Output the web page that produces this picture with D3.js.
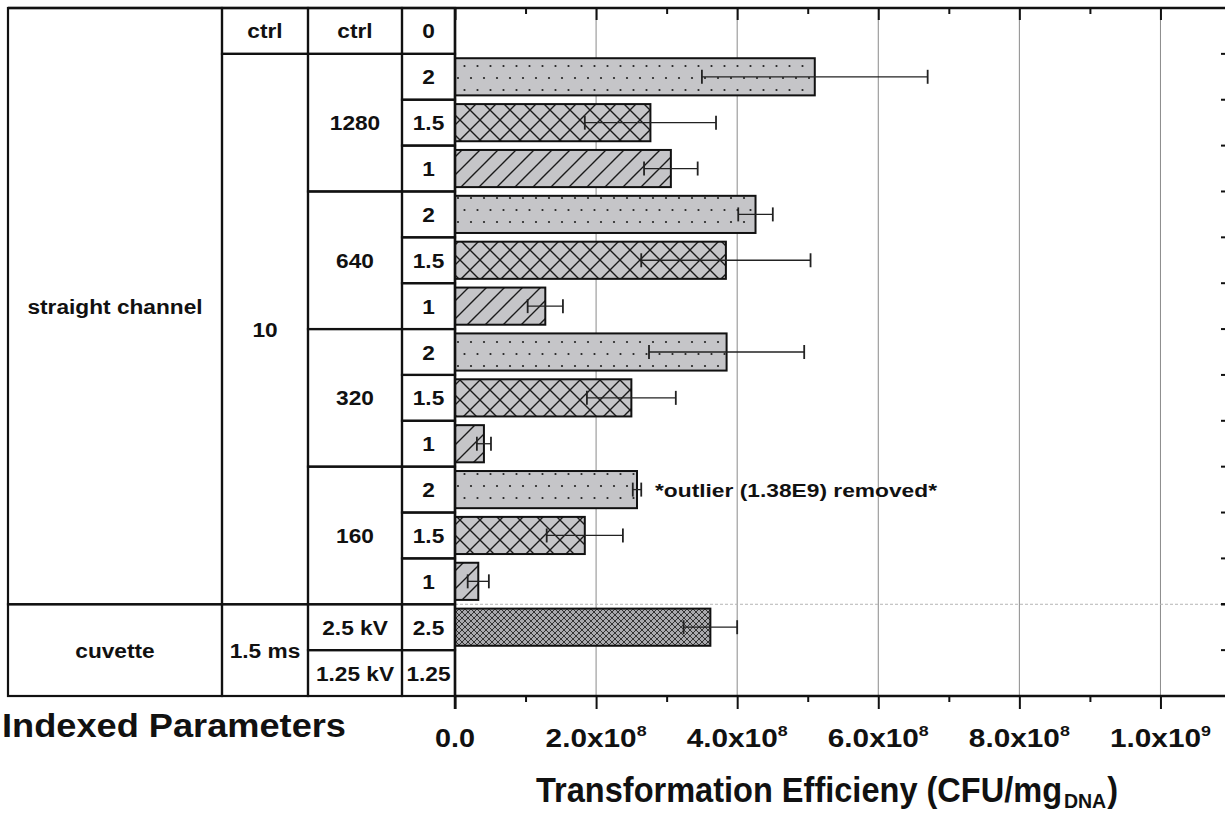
<!DOCTYPE html>
<html>
<head>
<meta charset="utf-8">
<script src="https://cdn.jsdelivr.net/npm/d3@7/dist/d3.min.js"></script>
<style>
  html, body { margin: 0; padding: 0; background: #fff; }
  svg { display: block; }
  text { font-family: "Liberation Sans", Arial, Helvetica, sans-serif; font-weight: bold; fill: #111; }
</style>
</head>
<body>
<svg id="chart" width="1225" height="815"></svg>
<script>
// ---- data ---------------------------------------------------------------
// one entry per row, top to bottom
const rowIndexLabels = ["0", "2", "1.5", "1", "2", "1.5", "1", "2", "1.5", "1", "2", "1.5", "1", "2.5", "1.25"];
const rowPatterns    = [null, "dots", "cross", "diag", "dots", "cross", "diag", "dots", "cross", "diag", "dots", "cross", "diag", "dense", null];
const efficiency     = [null, 5.10e8, 2.77e8, 3.06e8, 4.26e8, 3.84e8, 1.28e8, 3.85e8, 2.50e8, 0.41e8, 2.58e8, 1.84e8, 0.33e8, 3.62e8, null];
const efficiencyErr  = [null, 1.60e8, 0.93e8, 0.38e8, 0.245e8, 1.20e8, 0.25e8, 1.10e8, 0.63e8, 0.10e8, 0.06e8, 0.54e8, 0.15e8, 0.38e8, null];

// parameter table: [label, first row, last row]
const deviceCells  = [["straight channel", 0, 12], ["cuvette", 13, 14]];
const pulseCells   = [["ctrl", 0, 0], ["10", 1, 12], ["1.5 ms", 13, 14]];
const channelCells = [["ctrl", 0, 0], ["1280", 1, 3], ["640", 4, 6], ["320", 7, 9], ["160", 10, 12], ["2.5 kV", 13, 13], ["1.25 kV", 14, 14]];

const majorTicks = [0, 2e8, 4e8, 6e8, 8e8, 1e9];
const minorTicks = [1e8, 3e8, 5e8, 7e8, 9e8];
const tickLabels = [["0.0", null], ["2.0x10", "8"], ["4.0x10", "8"], ["6.0x10", "8"], ["8.0x10", "8"], ["1.0x10", "9"]];

const outlierNote = "*outlier (1.38E9) removed*";
const outlierRow = 10;

// ---- layout -------------------------------------------------------------
const svg = d3.select("#chart");
const yTop = 8, yBottom = 696;
const colX = [8, 222, 308, 402, 455];
const nRows = rowIndexLabels.length;

const x = d3.scaleLinear().domain([0, 1.1e9]).range([455, 1231]);
const rows = d3.scaleBand().domain(d3.range(nRows)).range([yTop, yBottom]);
const bars = d3.scaleBand().domain(d3.range(nRows)).range([yTop, yBottom]).paddingInner(0.19).paddingOuter(0.095);

// ---- patterns -----------------------------------------------------------
const defs = svg.append("defs");
const barGrey = "#c5c5c8";

const dots = defs.append("pattern").attr("id", "dots").attr("patternUnits", "userSpaceOnUse")
  .attr("width", 13).attr("height", 24);
dots.append("rect").attr("width", 13).attr("height", 24).attr("fill", barGrey);
dots.append("circle").attr("cx", 3).attr("cy", 6).attr("r", 1.1).attr("fill", "#222");
dots.append("circle").attr("cx", 9.5).attr("cy", 18).attr("r", 1.1).attr("fill", "#222");

const cross = defs.append("pattern").attr("id", "cross").attr("patternUnits", "userSpaceOnUse")
  .attr("width", 20).attr("height", 20);
cross.append("rect").attr("width", 20).attr("height", 20).attr("fill", barGrey);
cross.append("path").attr("d", "M0,0L20,20M20,0L0,20M-5,5L5,-5M15,25L25,15M-5,15L5,25M15,-5L25,5")
  .attr("stroke", "#1a1a1a").attr("stroke-width", 1.4).attr("fill", "none");

const diag = defs.append("pattern").attr("id", "diag").attr("patternUnits", "userSpaceOnUse")
  .attr("width", 18).attr("height", 18);
diag.append("rect").attr("width", 18).attr("height", 18).attr("fill", barGrey);
diag.append("path").attr("d", "M0,18L18,0M-4,4L4,-4M14,22L22,14")
  .attr("stroke", "#1a1a1a").attr("stroke-width", 1.4).attr("fill", "none");

const dense = defs.append("pattern").attr("id", "dense").attr("patternUnits", "userSpaceOnUse")
  .attr("width", 6).attr("height", 6);
dense.append("rect").attr("width", 6).attr("height", 6).attr("fill", "#a9a9ad");
dense.append("path").attr("d", "M0,0L6,6M6,0L0,6")
  .attr("stroke", "#333").attr("stroke-width", 1).attr("fill", "none");

// ---- grid ---------------------------------------------------------------
svg.append("g").selectAll("line").data(majorTicks.slice(1)).join("line")
  .attr("x1", d => x(d)).attr("x2", d => x(d))
  .attr("y1", yTop).attr("y2", yBottom)
  .attr("stroke", "#8a8a8a").attr("stroke-width", 1);

// separator between the channel and cuvette experiments
svg.append("line")
  .attr("x1", x(0)).attr("x2", 1225)
  .attr("y1", rows(13)).attr("y2", rows(13))
  .attr("stroke", "#b5b5b5").attr("stroke-width", 1).attr("stroke-dasharray", "3,2");

// ---- bars ---------------------------------------------------------------
const barData = d3.range(nRows).filter(i => efficiency[i] != null);

svg.append("g").selectAll("rect").data(barData).join("rect")
  .attr("x", x(0))
  .attr("y", i => bars(i))
  .attr("width", i => x(efficiency[i]) - x(0))
  .attr("height", bars.bandwidth())
  .attr("fill", i => `url(#${rowPatterns[i]})`)
  .attr("stroke", "#111").attr("stroke-width", 2);

// error bars
const eb = svg.append("g").attr("stroke", "#222").attr("stroke-width", 1.3);
barData.forEach(i => {
  const cy = bars(i) + bars.bandwidth() / 2;
  const lo = x(efficiency[i] - efficiencyErr[i]);
  const hi = x(efficiency[i] + efficiencyErr[i]);
  eb.append("line").attr("x1", lo).attr("x2", hi).attr("y1", cy).attr("y2", cy);
  eb.append("line").attr("x1", lo).attr("x2", lo).attr("y1", cy - 7).attr("y2", cy + 7).attr("stroke-width", 1.8);
  eb.append("line").attr("x1", hi).attr("x2", hi).attr("y1", cy - 7).attr("y2", cy + 7).attr("stroke-width", 1.8);
});

// note on the 160 / 2 row
svg.append("text")
  .attr("x", 655)
  .attr("y", bars(outlierRow) + bars.bandwidth() / 2 + 7)
  .attr("font-size", 19)
  .attr("textLength", 282).attr("lengthAdjust", "spacingAndGlyphs")
  .text(outlierNote);

// ---- axes ---------------------------------------------------------------
const axisTop = svg.append("g").attr("transform", `translate(0,${yTop})`);
axisTop.call(d3.axisBottom(x).tickValues(majorTicks).tickSize(12).tickFormat(""));
axisTop.append("g").call(d3.axisBottom(x).tickValues(minorTicks).tickSize(6).tickFormat(""));
axisTop.selectAll(".domain").remove();
axisTop.selectAll(".tick line").attr("stroke", "#111").attr("stroke-width", 2);

const axisBot = svg.append("g").attr("transform", `translate(0,${yBottom})`);
axisBot.call(d3.axisBottom(x).tickValues(majorTicks).tickSize(13).tickFormat(""));
axisBot.append("g").call(d3.axisBottom(x).tickValues(minorTicks).tickSize(6).tickFormat(""));
axisBot.selectAll(".domain").remove();
axisBot.selectAll(".tick line").attr("stroke", "#111").attr("stroke-width", 2);

// tick labels with superscript exponents
majorTicks.forEach((v, k) => {
  const [base, exp] = tickLabels[k];
  const t = svg.append("text")
    .attr("x", x(v)).attr("y", 747)
    .attr("text-anchor", "middle")
    .attr("font-size", 25);
  t.append("tspan").text(base);
  if (exp) {
    t.append("tspan").attr("font-size", 15).attr("dy", -11).text(exp);
    t.attr("textLength", 101).attr("lengthAdjust", "spacingAndGlyphs");
  } else {
    t.attr("textLength", 40).attr("lengthAdjust", "spacingAndGlyphs");
  }
});

// frame lines: top border, value axis, bottom axis
svg.append("line").attr("x1", colX[0]).attr("x2", 1225).attr("y1", yTop).attr("y2", yTop)
  .attr("stroke", "#111").attr("stroke-width", 2.5);
svg.append("line").attr("x1", x(0)).attr("x2", 1225).attr("y1", yBottom).attr("y2", yBottom)
  .attr("stroke", "#111").attr("stroke-width", 2.5);
svg.append("line").attr("x1", x(0)).attr("x2", x(0)).attr("y1", yTop).attr("y2", yBottom + 13)
  .attr("stroke", "#111").attr("stroke-width", 2.5);

// right-hand row ticks
svg.append("g").selectAll("line").data(d3.range(1, nRows)).join("line")
  .attr("x1", x(1.1e9) - 10).attr("x2", x(1.1e9))
  .attr("y1", i => rows(i)).attr("y2", i => rows(i))
  .attr("stroke", "#111").attr("stroke-width", i => i === 13 ? 2.5 : 2);

// ---- parameter table ----------------------------------------------------
const table = svg.append("g");
function cellGroup(cells, c0, c1, size) {
  cells.forEach(([label, r0, r1]) => {
    const y0 = rows(r0), y1 = rows(r1) + rows.bandwidth();
    table.append("rect")
      .attr("x", colX[c0]).attr("y", y0)
      .attr("width", colX[c1] - colX[c0]).attr("height", y1 - y0)
      .attr("fill", "none").attr("stroke", "#111").attr("stroke-width", 2.2);
    const cx = (colX[c0] + colX[c1]) / 2, cy = (y0 + y1) / 2;
    table.append("text")
      .attr("transform", `translate(${cx},${cy + size * 0.36}) scale(1.08,1)`)
      .attr("text-anchor", "middle")
      .attr("font-size", size)
      .text(label);
  });
}
cellGroup(deviceCells, 0, 1, 21);
cellGroup(pulseCells, 1, 2, 21);
cellGroup(channelCells, 2, 3, 21);
cellGroup(rowIndexLabels.map((l, i) => [l, i, i]), 3, 4, 21);

// ---- titles -------------------------------------------------------------
svg.append("text")
  .attr("x", 2).attr("y", 737)
  .attr("font-size", 33)
  .attr("textLength", 344).attr("lengthAdjust", "spacingAndGlyphs")
  .text("Indexed Parameters");

const xTitle = svg.append("text")
  .attr("x", 536).attr("y", 802)
  .attr("font-size", 35)
  .attr("textLength", 582).attr("lengthAdjust", "spacingAndGlyphs");
xTitle.append("tspan").text("Transformation Efficieny (CFU/mg");
xTitle.append("tspan").attr("font-size", 21).attr("dy", 6).attr("dx", 2).text("DNA");
xTitle.append("tspan").attr("dy", -6).attr("dx", 1).text(")");
</script>
</body>
</html>
